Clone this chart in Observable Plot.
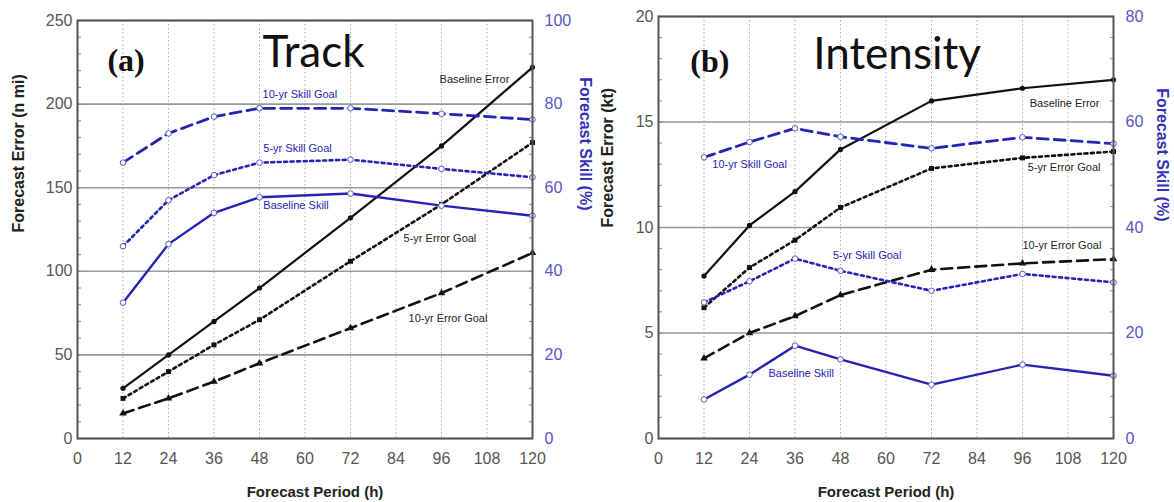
<!DOCTYPE html>
<html>
<head>
<meta charset="utf-8">
<script src="https://cdn.jsdelivr.net/npm/d3@7"></script>
<script src="https://cdn.jsdelivr.net/npm/@observablehq/plot@0.6"></script>
<style>
  html, body { margin: 0; padding: 0; background: white; }
  #wrap { display: flex; flex-direction: row; width: 1174px; height: 502px; }
  #wrap svg { display: block; }
</style>
</head>
<body>
<div id="wrap"></div>
<script>
// ---------- data ----------
const hours = [12, 24, 36, 48, 72, 96, 120];
const xTicks = [0, 12, 24, 36, 48, 60, 72, 84, 96, 108, 120];

// (a) Track — errors (n mi), skills (%)
const trackBaselineError = [30, 50, 70, 90, 132, 175, 222];
const track5yrErrorGoal  = [24, 40, 56, 71, 106, 140, 177];
const track10yrErrorGoal = [15, 24, 34, 45, 66, 87, 111];
const trackBaselineSkill = [32.5, 46.5, 54, 57.7, 58.6, 55.7, 53.3];
const track5yrSkillGoal  = [46, 57, 63, 66, 66.7, 64.5, 62.5];
const track10yrSkillGoal = [66, 73, 77, 79, 79, 77.7, 76.3];
const trackErrorTicks = [0, 50, 100, 150, 200, 250];
const trackSkillTicks = [0, 20, 40, 60, 80, 100];

// (b) Intensity — errors (kt), skills (%)
const intBaselineError = [7.7, 10.1, 11.7, 13.7, 16.0, 16.6, 17.0];
const int5yrErrorGoal  = [6.2, 8.1, 9.4, 10.95, 12.8, 13.3, 13.6];
const int10yrErrorGoal = [3.8, 5.0, 5.8, 6.8, 8.0, 8.3, 8.5];
const intBaselineSkill = [7.4, 12.1, 17.6, 15.0, 10.2, 14.0, 11.9];
const int5yrSkillGoal  = [25.8, 29.8, 34.1, 31.8, 28.0, 31.2, 29.6];
const int10yrSkillGoal = [53.3, 56.2, 58.8, 57.2, 55.0, 57.1, 55.9];
const intErrorTicks = [0, 5, 10, 15, 20];
const intSkillTicks = [0, 20, 40, 60, 80];

// series labels (x in h, y in error units)
const trackLabels = [
  {text: "Baseline Error",   x: 95.5, y: 214.7, kind: "err"},
  {text: "10-yr Skill Goal", x: 48.8, y: 205.7, kind: "skill"},
  {text: "5-yr Skill Goal",  x: 49,   y: 173.4, kind: "skill"},
  {text: "Baseline Skill",   x: 49,   y: 139.4, kind: "skill"},
  {text: "5-yr Error Goal",  x: 86,   y: 119.6, kind: "err"},
  {text: "10-yr Error Goal", x: 87.3, y: 71.8,  kind: "err"}
];
const intLabels = [
  {text: "Baseline Error",   x: 97.9, y: 15.9,  kind: "err"},
  {text: "5-yr Error Goal",  x: 97.4, y: 12.85, kind: "err"},
  {text: "10-yr Error Goal", x: 96,   y: 9.15,  kind: "err"},
  {text: "10-yr Skill Goal", x: 14.2, y: 13.0,  kind: "skill"},
  {text: "5-yr Skill Goal",  x: 46,   y: 8.67,  kind: "skill"},
  {text: "Baseline Skill",   x: 29,   y: 3.08,  kind: "skill"}
];

// ---------- styling ----------
const BLUE = "#2424b4";
const BLUE_TXT = "#5656c4";
const BLUE_TITLE = "#3030b8";
const GRAY_TXT = "#555";

function panel(cfg) {
  const k = cfg.yMax / cfg.skillMax;
  const rows = hours.map((h, i) => ({
    h,
    be: cfg.be[i], e5: cfg.e5[i], e10: cfg.e10[i],
    bs: cfg.bs[i] * k, s5: cfg.s5[i] * k, s10: cfg.s10[i] * k
  }));
  const minor = d3.range(0, cfg.yMax + 1e-9, cfg.minorStep);
  const plot = Plot.plot({
    width: cfg.w, height: 502,
    marginLeft: cfg.ml, marginRight: cfg.mr, marginTop: cfg.mt, marginBottom: 64,
    x: {domain: [0, 120]},
    y: {domain: [0, cfg.yMax]},
    style: {fontFamily: "'Liberation Sans', Arial, sans-serif", fontSize: "16px", background: "white", color: GRAY_TXT},
    marks: [
      Plot.gridX(xTicks, {stroke: "#aaa", strokeOpacity: 1, strokeDasharray: "1.5,2.5"}),
      Plot.gridY(cfg.errTicks, {stroke: "#999", strokeOpacity: 1, strokeWidth: 1.6}),
      Plot.axisY({ticks: minor, tickSize: -4, tickFormat: () => "", stroke: "#888"}),
      Plot.axisY({anchor: "right", ticks: minor, tickSize: -4, tickFormat: () => "", stroke: "#888"}),
      Plot.axisX({ticks: xTicks, tickSize: 0, tickPadding: 14, label: null, fill: GRAY_TXT, fontSize: 16}),
      Plot.axisY({ticks: cfg.errTicks, tickSize: 0, tickPadding: 5, label: null, fill: GRAY_TXT, fontSize: 16}),
      Plot.axisY({anchor: "right", ticks: cfg.skillTicks.map(v => v * k), tickSize: 0, tickPadding: 12,
        tickFormat: d => String(Math.round(d / k)), label: null, fill: BLUE_TXT, fontSize: 16}),
      // error lines (black)
      Plot.line(rows, {x: "h", y: "be", stroke: "#111", strokeWidth: 2.2}),
      Plot.line(rows, {x: "h", y: "e5", stroke: "#111", strokeWidth: 2.6, strokeDasharray: "3,3.5"}),
      Plot.line(rows, {x: "h", y: "e10", stroke: "#111", strokeWidth: 2.6, strokeDasharray: "11,6"}),
      Plot.dot(rows, {x: "h", y: "be", r: 2.6, fill: "#111", symbol: "circle"}),
      Plot.dot(rows, {x: "h", y: "e5", r: 2.8, fill: "#111", symbol: "square"}),
      Plot.dot(rows, {x: "h", y: "e10", r: 2.8, fill: "#111", symbol: "triangle"}),
      // skill lines (blue)
      Plot.line(rows, {x: "h", y: "bs", stroke: BLUE, strokeWidth: 2.4}),
      Plot.line(rows, {x: "h", y: "s5", stroke: BLUE, strokeWidth: 2.6, strokeDasharray: "3,3.5"}),
      Plot.line(rows, {x: "h", y: "s10", stroke: BLUE, strokeWidth: 2.8, strokeDasharray: "11,6"}),
      Plot.dot(rows, {x: "h", y: "bs", r: 2.8, fill: "white", stroke: BLUE_TXT, strokeWidth: 1}),
      Plot.dot(rows, {x: "h", y: "s5", r: 2.8, fill: "white", stroke: BLUE_TXT, strokeWidth: 1}),
      Plot.dot(rows, {x: "h", y: "s10", r: 2.8, fill: "white", stroke: BLUE_TXT, strokeWidth: 1}),
      Plot.frame({stroke: "#555", strokeWidth: 2}),
      // series labels
      Plot.text(cfg.labels, {x: "x", y: "y", text: "text", textAnchor: "start", lineAnchor: "middle",
        fontSize: 11, fill: d => d.kind === "err" ? "#222" : BLUE}),
      // panel letter and title
      Plot.text([cfg.letter], {x: cfg.letterX, y: cfg.letterY, text: d => d, textAnchor: "start", lineAnchor: "bottom",
        fontFamily: "'Liberation Serif', 'Times New Roman', serif", fontWeight: "bold", fontSize: 32, fill: "#111"}),
      Plot.text([cfg.title], {x: cfg.titleX, y: cfg.titleY, text: d => d, textAnchor: "start", lineAnchor: "bottom",
        fontFamily: "Lato, 'Open Sans', sans-serif", fontSize: 44, fill: "#111"}),
      // axis titles
      Plot.text([cfg.yTitle], {frameAnchor: "left", dx: cfg.ytDx, dy: cfg.ytDy, rotate: -90, text: d => d,
        fontWeight: "bold", fontSize: 16, fill: "#222", ariaLabel: "ytitle"}),
      Plot.text(["Forecast Skill (%)"], {frameAnchor: "right", dx: cfg.rtDx, dy: cfg.rtDy, rotate: 90, text: d => d,
        fontWeight: "bold", fontSize: 16, fill: BLUE_TITLE, ariaLabel: "ytitle"}),
      Plot.text(["Forecast Period (h)"], {frameAnchor: "bottom", dx: cfg.xtDx, dy: 54, text: d => d,
        lineAnchor: "middle", fontWeight: "bold", fontSize: 15, fill: "#222"})
    ]
  });
  plot.querySelectorAll('g[aria-label="ytitle"] text').forEach(t => t.setAttribute("letter-spacing", "1.2"));
  return plot;
}

const wrap = document.getElementById("wrap");
wrap.appendChild(panel({
  w: 596, yMax: 250, skillMax: 100, minorStep: 10, ml: 77, mr: 64, mt: 20,
  be: trackBaselineError, e5: track5yrErrorGoal, e10: track10yrErrorGoal,
  bs: trackBaselineSkill, s5: track5yrSkillGoal, s10: track10yrSkillGoal,
  errTicks: trackErrorTicks, skillTicks: trackSkillTicks, labels: trackLabels,
  letter: "(a)", letterX: 7.9, letterY: 220, title: "Track", titleX: 48.8, titleY: 222,
  yTitle: "Forecast Error (n mi)", ytDx: -59, ytDy: 3, rtDx: 53, rtDy: -19, xtDx: 10
}));
wrap.appendChild(panel({
  w: 578, yMax: 20, skillMax: 80, minorStep: 1, ml: 62, mr: 61, mt: 16,
  be: intBaselineError, e5: int5yrErrorGoal, e10: int10yrErrorGoal,
  bs: intBaselineSkill, s5: int5yrSkillGoal, s10: int10yrSkillGoal,
  errTicks: intErrorTicks, skillTicks: intSkillTicks, labels: intLabels,
  letter: "(b)", letterX: 8.4, letterY: 17.35, title: "Intensity", titleX: 40.8, titleY: 17.5,
  yTitle: "Forecast Error (kt)", ytDx: -51, ytDy: 0, rtDx: 49, rtDy: -6, xtDx: 0
}));
</script>
</body>
</html>
